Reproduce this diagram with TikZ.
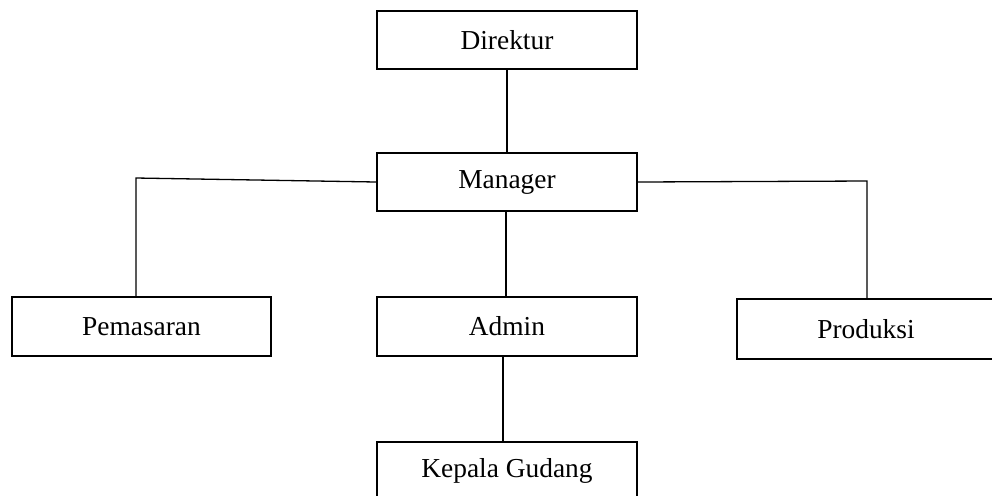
\documentclass[tikz,border=0pt]{standalone}
\usepackage{fontspec}
\setmainfont{Liberation Serif}
\begin{document}
\begin{tikzpicture}[x=0.5pt,y=-0.5pt,
    box/.style={draw, line width=0.8pt, inner sep=0pt, minimum width=130pt,
                font=\fontsize{13.7}{16}\selectfont},
    link/.style={line width=0.65pt}]
  \useasboundingbox (0,0) rectangle (992,495);
  \clip (0,0) rectangle (992,495);

  % boxes of the organisation chart
  \node[box, minimum height=29pt] (dir) at (507,40) {Direktur};
  \node[box, minimum height=29pt] (mgr) at (507,182) {Manager};
  \node[box, minimum width=129.5pt, minimum height=29.5pt] (pem) at (141.5,326.5) {Pemasaran};
  \node[box, minimum height=29.5pt] (adm) at (507,326.5) {Admin};
  \node[box, minimum width=129pt, minimum height=30pt] (pro) at (866,329) {Produksi};
  \node[box, minimum height=29pt] (kep) at (507,471) {Kepala Gudang};

  % bend points of the side branches
  \coordinate (pl) at (136,178);
  \coordinate (pr) at (867,181);

  % connectors
  \draw[link] (dir.south) -- (mgr.north);
  \draw[link] (mgr.west) -- (pl) -- (pl |- pem.north);
  \draw[link] (mgr.east) -- (pr) -- (pr |- pro.north);
  \draw[link] ([xshift=-0.5pt]mgr.south) -- ([xshift=-0.5pt]adm.north);
  \draw[link] ([xshift=-2pt]adm.south) -- ([xshift=-2pt]kep.north);
\end{tikzpicture}
\end{document}
